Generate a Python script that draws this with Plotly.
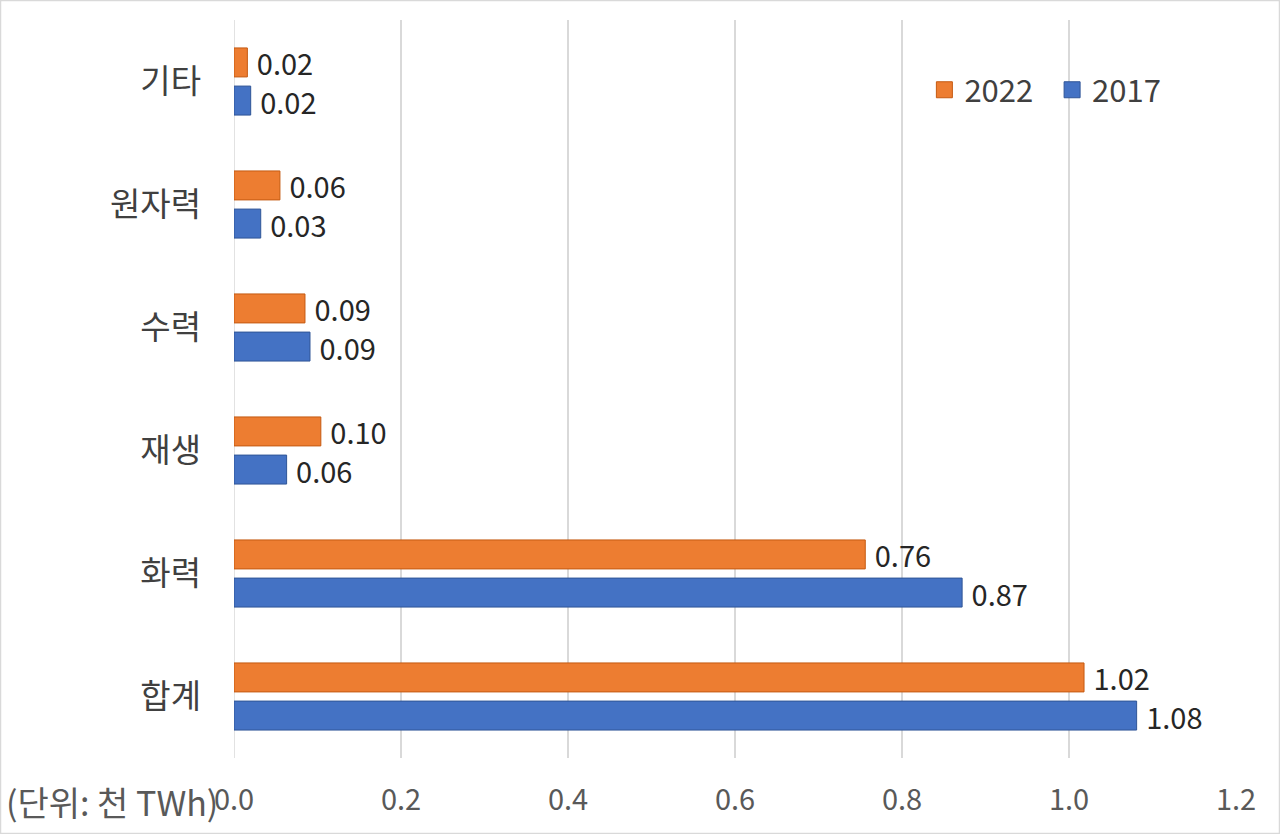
import plotly.graph_objects as go

categories = ["합계", "화력", "재생", "수력", "원자력", "기타"]
values_2017 = [1.081, 0.872, 0.063, 0.091, 0.032, 0.020]
values_2022 = [1.018, 0.756, 0.104, 0.085, 0.055, 0.016]
tick_vals = [0.0, 0.2, 0.4, 0.6, 0.8, 1.0, 1.2]
tick_text = ["0.0", "0.2", "0.4", "0.6", "0.8", "1.0", "1.2"]

W, H = 1280, 834
L, R, T, B = 234, 44, 20, 76
FONT = "Noto Sans CJK KR"
NB = "\u00a0"
BLUE, BLUE_LINE = "#4472C4", "#2F5597"
ORANGE, ORANGE_LINE = "#ED7D31", "#C55A11"

fig = go.Figure()
fig.add_trace(go.Bar(
    name="2017", y=categories, x=values_2017, orientation="h",
    marker=dict(color=BLUE, line=dict(color=BLUE_LINE, width=1)),
    texttemplate=NB + "%{x:.2f}", textposition="outside", cliponaxis=False,
    constraintext="none", showlegend=False,
    textfont=dict(family=FONT, size=29, color="#262626"),
))
fig.add_trace(go.Bar(
    name="2022", y=categories, x=values_2022, orientation="h",
    marker=dict(color=ORANGE, line=dict(color=ORANGE_LINE, width=1)),
    texttemplate=NB + "%{x:.2f}", textposition="outside", cliponaxis=False,
    constraintext="none", showlegend=False,
    textfont=dict(family=FONT, size=29, color="#262626"),
))
# legend-only entries (larger square symbols)
fig.add_trace(go.Scatter(
    name="2017", x=[None], y=[None], mode="markers",
    marker=dict(symbol="square", size=16, color=BLUE,
                line=dict(color=BLUE_LINE, width=1)),
))
fig.add_trace(go.Scatter(
    name="2022" + NB + NB, x=[None], y=[None], mode="markers",
    marker=dict(symbol="square", size=16, color=ORANGE,
                line=dict(color=ORANGE_LINE, width=1)),
))

pw, ph = W - L - R, H - T - B
fig.update_layout(
    width=W, height=H,
    margin=dict(l=L, r=R, t=T, b=B, pad=0, autoexpand=False),
    paper_bgcolor="white", plot_bgcolor="white",
    barmode="group", bargap=0.38, bargroupgap=0.24,
    font=dict(family=FONT, size=28, color="#595959"),
    showlegend=True,
    legend=dict(orientation="h", traceorder="reversed", x=0.689, y=0.905,
                xanchor="left", yanchor="middle",
                font=dict(family=FONT, size=31, color="#404040"),
                bgcolor="rgba(0,0,0,0)", itemwidth=30),
    xaxis=dict(range=[0, 1.2], tickvals=tick_vals, ticktext=tick_text,
               showgrid=True, gridcolor="#D9D9D9", gridwidth=1.5,
               zeroline=False, showline=False, ticks="", automargin=False,
               ticklabelstandoff=22,
               tickfont=dict(family=FONT, size=29, color="#595959")),
    yaxis=dict(categoryorder="array", categoryarray=categories,
               showgrid=False, zeroline=False, showline=False, ticks="",
               ticklabelstandoff=32, automargin=False,
               tickfont=dict(family=FONT, size=33, color="#404040")),
    shapes=[dict(type="rect", xref="paper", yref="paper",
                 x0=-L / pw + 0.5 / pw, x1=1 + R / pw - 0.5 / pw,
                 y0=-B / ph + 0.5 / ph, y1=1 + T / ph - 0.5 / ph,
                 line=dict(color="#D9D9D9", width=1.5), layer="below"),
            dict(type="line", xref="x", yref="paper", x0=0, x1=0, y0=0, y1=1,
                 line=dict(color="#D9D9D9", width=1.5), layer="below")],
    annotations=[dict(text="(단위: 천 TWh)", xref="paper", yref="paper",
                      x=-L / pw + 4 / pw, y=-(801 - 758) / ph,
                      xanchor="left", yanchor="middle", showarrow=False,
                      font=dict(family=FONT, size=34, color="#595959"))],
)
fig.write_html("out.html", config={"displayModeBar": False},
               post_script="document.body.style.margin='0';document.body.style.padding='0';")
